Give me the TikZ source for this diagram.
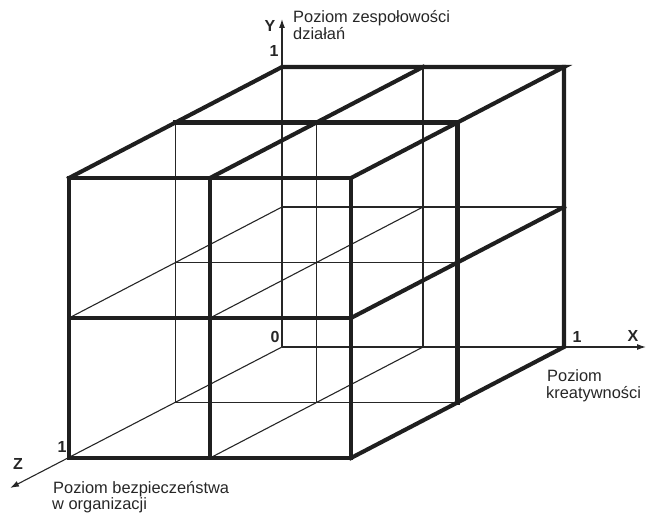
\documentclass[tikz,border=0pt]{standalone}
\usepackage{fontspec}
\setmainfont{Liberation Sans}
\usetikzlibrary{arrows.meta}
\begin{document}
\begin{tikzpicture}[
  x={(282pt,0pt)}, y={(0pt,280pt)}, z={(-213pt,-111pt)},
  thinline/.style={line width=1.1pt, black!85},
  thickline/.style={line width=4.1pt, black!88, line join=miter, line cap=rect},
  axisline/.style={line width=1.1pt, black!85, -{Latex[length=9pt,width=6pt]}},
  lbl/.style={font=\fontsize{16.4pt}{18pt}\selectfont, inner sep=0pt, anchor=base west, text=black!85},
  tick/.style={font=\bfseries\fontsize{16pt}{18pt}\selectfont, inner sep=0pt, anchor=base, text=black!85}
]
\useasboundingbox (-282pt,-166pt) rectangle (366pt,347pt);
% corner coordinates
\coordinate (O) at (0,0,0);
\coordinate (Xend) at (364pt,0pt);
\coordinate (Yend) at (0pt,328pt);
\coordinate (Zend) at (-272pt,-141pt);
% thin lines
\draw[thinline] (0.5,0,0) -- (0.5,1,0);
\draw[thinline] (0,0.5,0) -- (1,0.5,0);
\draw[thinline] (0.5,0,0) -- (0.5,0,1);
\draw[thinline] (0,0.5,0) -- (0,0.5,1);
\draw[thinline] (0.5,0.5,0) -- (0.5,0.5,1);
\draw[thinline] (0,0,0.5) -- (0,1,0.5);
\draw[thinline] (0,0,0.5) -- (1,0,0.5);
\draw[thinline] (0.5,0,0.5) -- (0.5,1,0.5);
\draw[thinline] (0,0.5,0.5) -- (1,0.5,0.5);
% axes
\draw[axisline] (O) -- (Xend);
\draw[axisline] (O) -- (Yend);
\draw[axisline] (O) -- (Zend);
% thick lines
\draw[thickline] (0,0,1) -- (1,0,1) -- (1,1,1) -- (0,1,1) -- cycle;
\draw[thickline] (0.5,0,1) -- (0.5,1,1);
\draw[thickline] (0,0.5,1) -- (1,0.5,1);
\draw[thickline] (0,1,1) -- (0,1,0) -- (1,1,0) -- (1,1,1);
\draw[thickline] (0.5,1,1) -- (0.5,1,0);
\draw[thickline] (0,1,0.5) -- (1,1,0.5);
\draw[thickline] (1,1,0) -- (1,0,0) -- (1,0,1);
\draw[thickline] (1,0.5,1) -- (1,0.5,0);
\draw[thickline] (1,0,0.5) -- (1,1,0.5);
% labels
\node[tick] (ly) at (-12pt,315pt) {Y};
\node[tick] (ly1) at (-8pt,290pt) {1};
\node[lbl] (ty1) at (11pt,324pt) {Poziom zespołowości};
\node[lbl] (ty2) at (11pt,307pt) {działań};
\node[tick] (lx) at (351pt,5pt) {X};
\node[tick] (lx1) at (295pt,4pt) {1};
\node[lbl] (tx1) at (265pt,-35pt) {Poziom};
\node[lbl] (tx2) at (264pt,-52pt) {kreatywności};
\node[tick] (l0) at (-7pt,4pt) {0};
\node[tick] (lz) at (-264pt,-123pt) {Z};
\node[tick] (lz1) at (-220pt,-106pt) {1};
\node[lbl] (tz1) at (-229pt,-147pt) {Poziom bezpieczeństwa};
\node[lbl] (tz2) at (-230pt,-163pt) {w organizacji};
\end{tikzpicture}
\end{document}
